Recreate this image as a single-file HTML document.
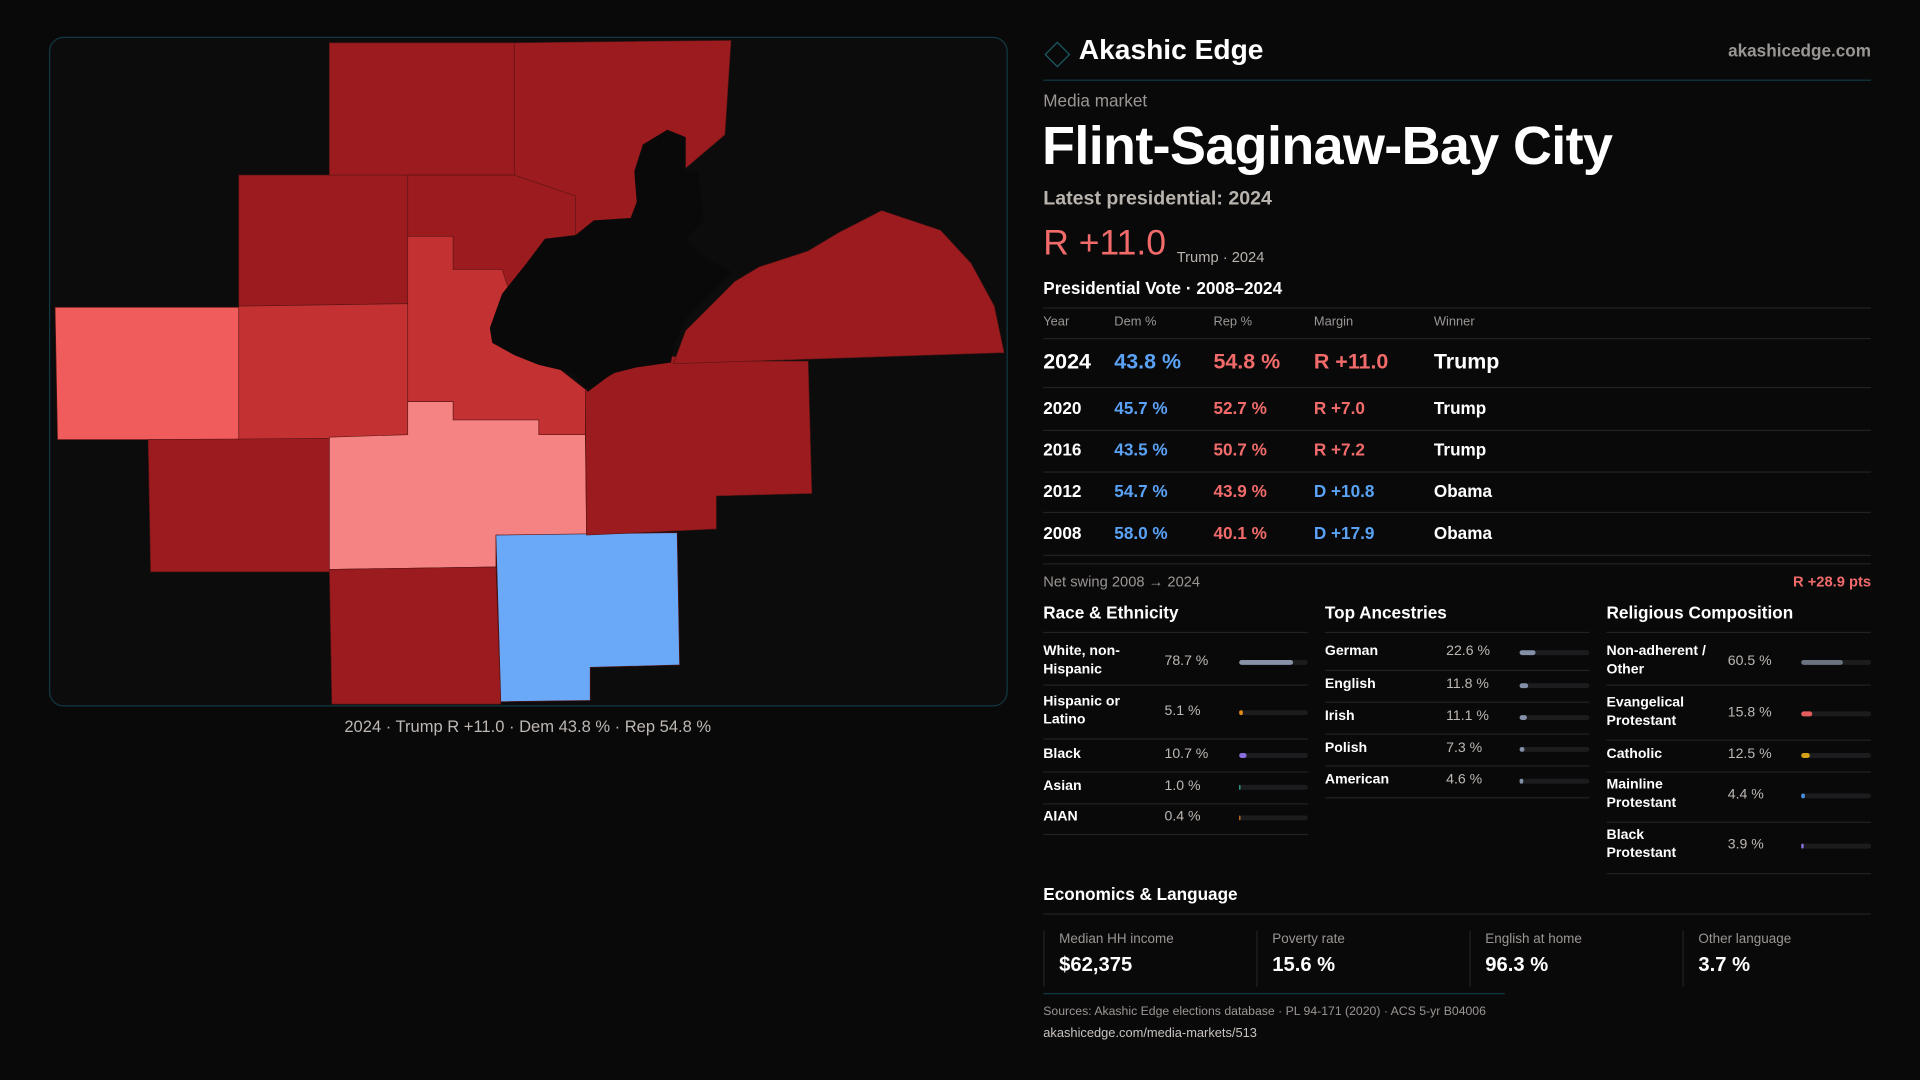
<!DOCTYPE html>
<html><head><meta charset="utf-8">
<style>
html,body{margin:0;padding:0;background:#0a090a;width:1920px;height:1080px;overflow:hidden}
#s{position:absolute;left:0;top:0;width:1568px;height:882px;transform:scale(1.22449);transform-origin:0 0;font-family:"Liberation Sans",sans-serif;color:#fff}
.a{position:absolute;white-space:nowrap}
.g{color:#9a9693}
.ln{position:absolute;height:1px;background:#222}
.red{color:#f26b6b}.blue{color:#5aa2f5}
</style></head><body>
<div id="s">
<div class="a" style="left:40px;top:30px;width:781px;height:545px;border:1px solid #123844;border-radius:12px;background:#0c0c0d"></div>
<svg class="a" style="left:0;top:0" width="1568" height="882" viewBox="0 0 1568 882">
<g stroke="#5a1414" stroke-width="0.5">
<polygon fill="#9b1b1f" points="269,35 420,35 420,143 333,143 333,193 269,193"/>
<polygon fill="#9b1b1f" points="420,35 597,33 592,110 545,150 520,200 480,230 420,230 420,143"/>
<polygon fill="#9b1b1f" points="195,143 333,143 333,248 195,250"/>
<polygon fill="#9b1b1f" points="333,143 420,143 470,160 470,230 410,260 370,220 370,193 333,193"/>
<polygon fill="#f05b5b" points="45,251 195,251 195,359 47,359"/>
<polygon fill="#c43132" points="195,250 333,248 333,357 195,359"/>
<polygon fill="#9b1b1f" points="121,359 269,358 269,467 123,467"/>
<polygon fill="#c43132" points="333,193 370,193 370,220 410,220 430,280 478,318 478,357 440,355 440,343 370,343 370,328 333,328"/>
<polygon fill="#f58383" points="269,357 333,355 333,328 370,328 370,343 440,343 440,355 478,355 479,437 405,437 405,463 269,465"/>
<polygon fill="#9b1b1f" points="269,465 405,463 409,575 271,575"/>
<polygon fill="#6aa8f8" points="405,437 553,435 555,543 482,545 482,572 409,573"/>
<polygon fill="#9b1b1f" points="478,318 510,300 540,290 580,295 660,295 663,403 585,405 585,432 479,437"/>
<polygon fill="#9b1b1f" points="550,297 560,270 600,230 620,218 660,205 685,190 720,172 768,188 793,215 812,250 820,288 550,297"/>
<polygon fill="#0a090a" stroke="none" points="400,268 410,240 430,215 445,195 470,192 485,180 515,178 520,165 518,140 525,118 545,106 560,112 560,140 570,140 575,180 560,195 575,210 598,222 580,240 560,260 550,282 548,296 520,300 500,305 480,320 470,305 440,298 420,290 402,280"/>
</g>
</svg>
<div class="a" style="left:0;width:862px;top:586px;text-align:center;font-size:13.5px;color:#bdb8b3">2024 · Trump R +11.0 · Dem 43.8 % · Rep 54.8 %</div>

<div class="a" style="left:856px;top:37px;width:13px;height:13px;border:1.5px solid #1a5c66;transform:rotate(45deg)"></div>
<div class="a" style="left:881px;top:27px;font-size:23px;font-weight:bold">Akashic Edge</div>
<div class="a g" style="right:40px;top:33px;font-size:14px;font-weight:bold">akashicedge.com</div>
<div class="ln" style="left:852px;width:676px;top:65px;background:#123a44"></div>
<div class="a g" style="left:852px;top:74px;font-size:14px">Media market</div>
<div class="a" style="left:851px;top:95px;font-size:44px;font-weight:bold;letter-spacing:-0.5px">Flint-Saginaw-Bay City</div>
<div class="a" style="left:852px;top:154px;font-size:16px;font-weight:bold;color:#b8b3ad">Latest presidential: 2024</div>
<div class="a red" style="left:852px;top:183px;font-size:29px">R +11.0</div>
<div class="a" style="left:961px;top:203px;font-size:12px;color:#b8b3ad">Trump · 2024</div>
<div class="a" style="left:852px;top:227px;font-size:14px;font-weight:bold">Presidential Vote · 2008–2024</div>
<div class="ln" style="left:852px;width:676px;top:251px"></div>
<div id="tbl"></div>
<div class="ln" style="left:852px;width:676px;top:460px"></div>
<div class="a g" style="left:852px;top:468px;font-size:12px">Net swing 2008 → 2024</div>
<div class="a red" style="right:40px;top:468px;font-size:12px;font-weight:bold">R +28.9 pts</div>
<div id="demo"></div>

<div class="a" style="left:852px;top:722px;font-size:14px;font-weight:bold">Economics &amp; Language</div>
<div class="ln" style="left:852px;width:676px;top:746px"></div>
<div id="econ"></div>
<div class="ln" style="left:852px;width:377px;top:811px;background:#123a44"></div>
<div class="a g" style="left:852px;top:821px;font-size:10px">Sources: Akashic Edge elections database · PL 94-171 (2020) · ACS 5-yr B04006</div>
<div class="a" style="left:852px;top:838px;font-size:10.5px;color:#c8c3be">akashicedge.com/media-markets/513</div>
</div>
<script>
const years=["2024","2020","2016","2012","2008"];
const demPct=[43.8,45.7,43.5,54.7,58.0];
const repPct=[54.8,52.7,50.7,43.9,40.1];
const winners=["Trump","Trump","Trump","Obama","Obama"];
const raceLabels=["White, non-<br>Hispanic","Hispanic or<br>Latino","Black","Asian","AIAN"];
const raceVals=[78.7,5.1,10.7,1.0,0.4];
const ancLabels=["German","English","Irish","Polish","American"];
const ancVals=[22.6,11.8,11.1,7.3,4.6];
const relLabels=["Non-adherent /<br>Other","Evangelical<br>Protestant","Catholic","Mainline<br>Protestant","Black<br>Protestant"];
const relVals=[60.5,15.8,12.5,4.4,3.9];
const econLabels=["Median HH income","Poverty rate","English at home","Other language"];
const econVals=["$62,375","15.6 %","96.3 %","3.7 %"];

const S=document.getElementById('s');
function el(html,style,name,inter){const d=document.createElement('div');d.className='a';d.innerHTML=html;d.style.cssText=style;


S.appendChild(d);return d;}
const cols=[852,910,991,1073,1171];
["Year","Dem %","Rep %","Margin","Winner"].forEach((h,i)=>el(h,`left:${cols[i]}px;top:257px;font-size:10.5px;color:#9a9693`,'table-header',false));
const ln=(x,w,y,n)=>el('',`left:${x}px;width:${w}px;top:${y}px;height:1px;background:#222`,n,false);
ln(852,676,276,'header-rule');
const rowY=[295,333,367,401,435],rowLine=[316,351,385,418,453];
years.forEach((y,i)=>{
 const big=i===0,fs=big?17.5:14,c=rowY[i]-fs*0.6;
 const m=repPct[i]-demPct[i],mt=(m>=0?'R +':'D +')+Math.abs(m).toFixed(1),mc=m>=0?'#f26b6b':'#5aa2f5';
 el(y,`left:852px;top:${c}px;font-size:${fs}px;font-weight:bold`,'row-year',false);
 el(demPct[i].toFixed(1)+' %',`left:910px;top:${c}px;font-size:${fs}px;font-weight:bold;color:#5aa2f5`,'row-dem',false);
 el(repPct[i].toFixed(1)+' %',`left:991px;top:${c}px;font-size:${fs}px;font-weight:bold;color:#f26b6b`,'row-rep',false);
 el(mt,`left:1073px;top:${c}px;font-size:${fs}px;font-weight:bold;color:${mc}`,'row-margin',false);
 el(winners[i],`left:1171px;top:${c}px;font-size:${fs}px;font-weight:bold`,'row-winner',false);
 ln(852,676,rowLine[i],'row-rule');
});
function section(x,title,labels,vals,colors,ys,lines,valX,barX,barW,w,name){
 el(title,`left:${x}px;top:492px;font-size:14px;font-weight:bold`,name+'-title',false);
 ln(x,w,516,name+'-rule');
 labels.forEach((l,i)=>{
  el(l,`left:${x}px;top:${ys[i]-(l.includes('<br>')?16:8)}px;font-size:11.5px;font-weight:bold;line-height:15px`,name+'-label',false);
  el(vals[i].toFixed(1)+' %',`left:${valX}px;top:${ys[i]-7}px;font-size:11.5px;color:#bdb8b3`,name+'-value',false);
  el('',`left:${barX}px;top:${ys[i]-2}px;width:${barW}px;height:4px;border-radius:2px;background:#1c1c1e`,name+'-track',false);
  el('',`left:${barX}px;top:${ys[i]-2}px;width:${Math.max(1,barW*vals[i]/100)}px;height:4px;border-radius:2px;background:${colors[i]}`,name+'-bar',false);
  ln(x,w,lines[i],name+'-row-rule');
 });
}
section(852,"Race &amp; Ethnicity",raceLabels,raceVals,["#8893a8","#e08a10","#8a6fe0","#2bb39a","#d9771a"],[541,582,617,643,668],[559,603,630,656,681],951,1012,56,216,'race');
section(1082,"Top Ancestries",ancLabels,ancVals,["#8390a8","#8390a8","#8390a8","#8390a8","#8390a8"],[533,560,586,612,638],[547,573,599,625,651],1181,1241,57,216,'ancestry');
section(1312,"Religious Composition",relLabels,relVals,["#6b7280","#e35d5d","#d4a017","#4a90e2","#8a6fe0"],[541,583,617,650,691],[559,604,630,671,713],1411,1471,57,216,'religion');
const ex=[852,1026,1200,1374];
econLabels.forEach((l,i)=>{
 el('',`left:${ex[i]}px;top:760px;width:1px;height:46px;background:#222`,'econ-card-border',false);
 el(l,`left:${ex[i]+13}px;top:761px;font-size:11px;color:#9a9693`,'econ-label',false);
 el(econVals[i],`left:${ex[i]+13}px;top:779px;font-size:16.5px;font-weight:bold`,'econ-value',false);
});
</script>
</body></html>
